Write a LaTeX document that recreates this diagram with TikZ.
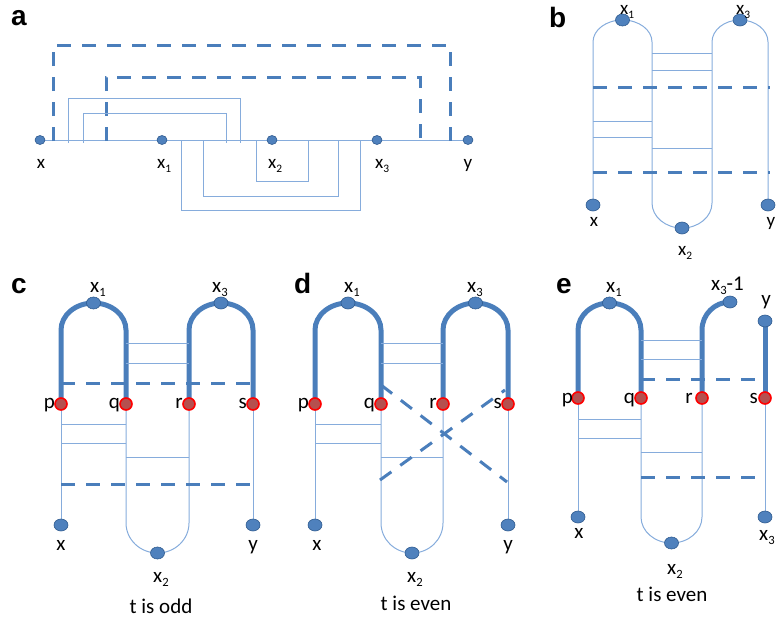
\documentclass[tikz,border=0pt]{standalone}
\usepackage{fontspec}
\setmainfont{Carlito}
\newfontfamily\panelfont{Liberation Sans}
\usetikzlibrary{shapes.geometric,backgrounds}
\definecolor{dblue}{HTML}{4A7EBB}
\definecolor{tblue}{HTML}{86ACDC}
\definecolor{nfill}{HTML}{4F81BD}
\definecolor{nedge}{HTML}{2E5A8E}
\definecolor{rfill}{HTML}{B5504F}
\newcommand\lsub[1]{\raisebox{-0.45ex}{\scalebox{0.6}{#1}}}
\tikzset{
  bnode/.style={ellipse, fill=nfill, draw=nedge, line width=0.6pt, minimum width=14pt, minimum height=12pt, inner sep=0pt},
  anode/.style={bnode, minimum width=10pt, minimum height=9pt},
  rnode/.style={circle, fill=rfill, draw=red, line width=1.6pt, minimum size=12pt, inner sep=0pt},
  tline/.style={draw=tblue, line width=1pt},
  dline/.style={draw=dblue, line width=3pt, dash pattern=on 14pt off 11pt},
  kline/.style={draw=dblue, line width=5pt},
  lab/.style={inner sep=0pt, font=\fontsize{21}{21}\selectfont, anchor=base},
  labw/.style={lab, anchor=base west},
  labe/.style={lab, anchor=base east},
  slab/.style={lab, font=\fontsize{19}{19}\selectfont},
  slabw/.style={slab, anchor=base west},
  plet/.style={inner sep=0pt, anchor=base west, font=\panelfont\bfseries\fontsize{28}{28}\selectfont}
}
\begin{document}
\begin{tikzpicture}[x=1pt,y=-1pt]
\useasboundingbox (0,0) rectangle (776,624);
% ---------------- panel a ----------------
\node[plet] (la) at (11,25) {a};
\node[anode] (xa) at (40,140) {};
\node[anode] (x1a) at (162,140) {};
\node[anode] (x2a) at (272,140) {};
\node[anode] (x3a) at (377,140) {};
\node[anode] (ya) at (468,140) {};
\node[slab] (lxa) at (41,168) {x};
\node[slabw] (lx1a) at (157,168) {x\lsub{1}};
\node[slabw] (lx2a) at (268,168) {x\lsub{2}};
\node[slabw] (lx3a) at (375,168) {x\lsub{3}};
\node[slab] (lya) at (468,168) {y};
% ---------------- panel b ----------------
\node[plet] (lb) at (549,27) {b};
\node[bnode] (xb) at (593,205) {};
\node[bnode] (yb) at (768,205) {};
\node[bnode] (x1b) at (622.5,20) {};
\node[bnode] (x3b) at (740,20) {};
\node[bnode] (x2b) at (682,228) {};
\node[slabw] (lx1b) at (620,14) {x\lsub{1}};
\node[slabw] (lx3b) at (736,14) {x\lsub{3}};
\node[slab] (lxb) at (594,226) {x};
\node[slab] (lyb) at (771,226) {y};
\node[slabw] (lx2b) at (678,255) {x\lsub{2}};
% ---------------- panel c ----------------
\node[plet] (lc) at (11,293) {c};
\node[bnode] (x1c) at (93.5,303) {};
\node[bnode] (x3c) at (221,303) {};
\node[rnode] (pc) at (61,404) {};
\node[rnode] (qc) at (126,404) {};
\node[rnode] (rc) at (189,404) {};
\node[rnode] (sc) at (253,404) {};
\node[bnode] (xc) at (61,525) {};
\node[bnode] (yc) at (253,525) {};
\node[bnode] (x2c) at (157.5,553) {};
\node[labw] (lx1c) at (90,292) {x\lsub{1}};
\node[labw] (lx3c) at (212,292) {x\lsub{3}};
\node[labe] (lpc) at (55,408) {p};
\node[labe] (lqc) at (120,408) {q};
\node[labe] (lrc) at (183,408) {r};
\node[labe] (lsc) at (247,408) {s};
\node[lab] (lxc) at (61,550) {x};
\node[lab] (lyc) at (253,550) {y};
\node[labw] (lx2c) at (153,582) {x\lsub{2}};
\node[lab] (tc) at (161,613) {t is odd};
% ---------------- panel d ----------------
\node[plet] (ld) at (294,293) {d};
\node[bnode] (x1d) at (348,303) {};
\node[bnode] (x3d) at (475.5,303) {};
\node[rnode] (pd) at (315,404) {};
\node[rnode] (qd) at (381,404) {};
\node[rnode] (rd) at (443,404) {};
\node[rnode] (sd) at (508,404) {};
\node[bnode] (xd) at (315,525) {};
\node[bnode] (yd) at (508,525) {};
\node[bnode] (x2d) at (412,553) {};
\node[labw] (lx1d) at (344,292) {x\lsub{1}};
\node[labw] (lx3d) at (467,292) {x\lsub{3}};
\node[labe] (lpd) at (309,408) {p};
\node[labe] (lqd) at (375,408) {q};
\node[labe] (lrd) at (437,408) {r};
\node[labe] (lsd) at (502,408) {s};
\node[lab] (lxd) at (317,550) {x};
\node[lab] (lyd) at (508,550) {y};
\node[labw] (lx2d) at (407,582) {x\lsub{2}};
\node[lab] (td) at (416,610) {t is even};
% ---------------- panel e ----------------
\node[plet] (le) at (556,293) {e};
\node[bnode] (x1e) at (609.5,303) {};
\node[bnode] (x31e) at (730,302) {};
\node[bnode] (ye) at (765,321) {};
\node[rnode] (pe) at (578,398) {};
\node[rnode] (qe) at (641,398) {};
\node[rnode] (re) at (702,398) {};
\node[rnode] (se) at (765,398) {};
\node[bnode] (xe) at (578,517) {};
\node[bnode] (x3e) at (765,517) {};
\node[bnode] (x2e) at (671.5,543) {};
\node[labw] (lx1e) at (606,292) {x\lsub{1}};
\node[labw] (lx31e) at (711,290) {x\lsub{3}-1};
\node[lab] (lye) at (766,305) {y};
\node[labe] (lpe) at (573,403) {p};
\node[labe] (lqe) at (635,403) {q};
\node[labe] (lre) at (693,403) {r};
\node[labe] (lse) at (758,403) {s};
\node[lab] (lxe) at (579,538) {x};
\node[labw] (lx3e) at (759,540) {x\lsub{3}};
\node[labw] (lx2e) at (667,574) {x\lsub{2}};
\node[lab] (te) at (672,601) {t is even};
% ---------------- lines ----------------
\begin{scope}[on background layer]
% a
\draw[tline] (xa.center) -- (ya.center);
\draw[dline] (53,141) -- (53,45) -- (450,45) -- (450,141);
\draw[dline] (106,141) -- (106,77) -- (420,77) -- (420,141);
\draw[tline] (68,143) |- (240,98) -- (240,143);
\draw[tline] (83,143) |- (226,113) -- (226,143);
\draw[tline] (181,141) |- (360,210) -- (360,141);
\draw[tline] (203,141) |- (338,196) -- (338,141);
\draw[tline] (256,141) |- (308,181) -- (308,141);
% b
\draw[tline] (xb.center) -- (593,42) arc[start angle=180,end angle=360,x radius=29.5,y radius=22]
  -- (652,203) arc[start angle=180,end angle=0,x radius=30,y radius=25]
  -- (712,42) arc[start angle=180,end angle=360,x radius=28,y radius=22] -- (yb.center);
\draw[tline] (652,53) -- (712,53);
\draw[tline] (652,70) -- (712,70);
\draw[dline] (593,87) -- (770,87);
\draw[tline] (593,121) -- (652,121);
\draw[tline] (593,137) -- (652,137);
\draw[tline] (652,148) -- (712,148);
\draw[dline] (593,172) -- (770,172);
% c
\draw[kline] (pc.center) -- (61,330) arc[start angle=180,end angle=360,x radius=32.5,y radius=27] -- (qc.center);
\draw[kline] (rc.center) -- (189,330) arc[start angle=180,end angle=360,x radius=32,y radius=27] -- (sc.center);
\draw[tline] (pc.center) -- (xc.center);
\draw[tline] (sc.center) -- (yc.center);
\draw[tline] (qc.center) -- (126,523) arc[start angle=180,end angle=0,x radius=31.5,y radius=30] -- (rc.center);
\draw[tline] (126,343) -- (189,343);
\draw[tline] (126,363) -- (189,363);
\draw[dline] (61,383) -- (253,383);
\draw[tline] (61,424) -- (126,424);
\draw[tline] (61,443) -- (126,443);
\draw[tline] (126,457) -- (189,457);
\draw[dline] (61,484) -- (253,484);
% d
\draw[kline] (pd.center) -- (315,330) arc[start angle=180,end angle=360,x radius=33,y radius=27] -- (qd.center);
\draw[kline] (rd.center) -- (443,330) arc[start angle=180,end angle=360,x radius=32.5,y radius=27] -- (sd.center);
\draw[tline] (pd.center) -- (xd.center);
\draw[tline] (sd.center) -- (yd.center);
\draw[tline] (qd.center) -- (381,523) arc[start angle=180,end angle=0,x radius=31,y radius=30] -- (rd.center);
\draw[tline] (381,343) -- (443,343);
\draw[tline] (381,363) -- (443,363);
\draw[tline] (315,424) -- (381,424);
\draw[tline] (315,443) -- (381,443);
\draw[tline] (381,457) -- (443,457);
\draw[dline] (381,385) -- (507,482);
\draw[dline] (380,480) -- (505,390);
% e
\draw[kline] (pe.center) -- (578,330) arc[start angle=180,end angle=360,x radius=31.5,y radius=27] -- (qe.center);
\draw[kline] (re.center) -- (702,330) arc[start angle=180,end angle=270,x radius=28,y radius=28] -- (x31e.center);
\draw[kline] (ye.center) -- (se.center);
\draw[tline] (pe.center) -- (xe.center);
\draw[tline] (se.center) -- (x3e.center);
\draw[tline] (qe.center) -- (641,517) arc[start angle=180,end angle=0,x radius=30.5,y radius=26] -- (re.center);
\draw[tline] (641,340) -- (702,340);
\draw[tline] (641,359) -- (702,359);
\draw[dline] (641,379) -- (765,379);
\draw[tline] (578,419) -- (641,419);
\draw[tline] (578,438) -- (641,438);
\draw[tline] (641,452) -- (702,452);
\draw[dline] (641,477) -- (765,477);
\end{scope}
\end{tikzpicture}
\end{document}
